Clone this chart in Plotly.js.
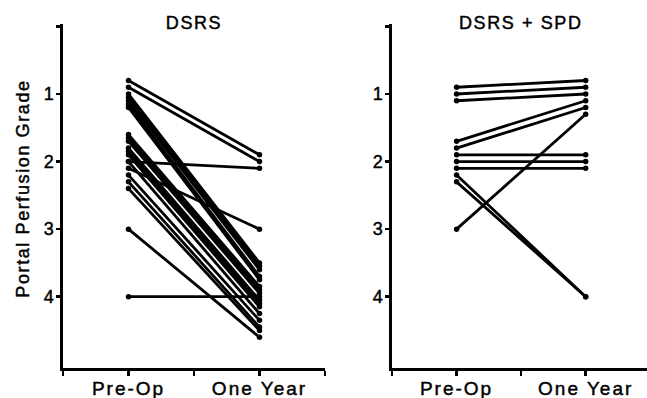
<!DOCTYPE html>
<html>
<head>
<meta charset="utf-8">
<script src="https://cdn.plot.ly/plotly-3.0.1.min.js"></script>
<style>
  html, body { margin: 0; padding: 0; background: #fff; }
  #chart { width: 647px; height: 398px; }
  .main-svg text { letter-spacing: 1.6px; stroke: #000; stroke-width: 0.45px; }
  .main-svg .xtick text, .main-svg .x2tick text { letter-spacing: 2px; }
</style>
</head>
<body>
<div id="chart"></div>
<script>
// ---- Data ----
const categories = ['Pre-Op', 'One Year'];
const panelTitles = ['DSRS', 'DSRS + SPD'];
const yTickLabels = ['1', '2', '3', '4'];
const yAxisTitle = 'Portal Perfusion Grade';

// DSRS panel: one line per patient (Pre-Op grade -> One Year grade)
const dsrsPreOp   = [0.8, 0.9, 2.0, 2.1, 4.0, 3.0,
                     1.0, 1.05, 1.1, 1.15, 1.2,
                     1.6, 1.65, 1.7, 1.8, 1.85, 1.9, 2.0, 2.2, 2.3, 2.4];
const dsrsOneYear = [1.9, 2.0, 2.1, 3.0, 4.0, 4.6,
                     3.5, 3.55, 3.6, 3.7, 3.75,
                     3.85, 3.9, 3.95, 4.05, 4.1, 4.15, 4.25, 4.35, 4.45, 4.5];

// DSRS + SPD panel
const spdPreOp   = [0.9, 1.0, 1.1, 1.7, 1.8, 1.9, 2.0, 2.1, 2.2, 2.3, 3.0];
const spdOneYear = [0.8, 0.9, 1.0, 1.1, 1.2, 1.9, 2.0, 2.1, 4.0, 4.0, 1.3];

// ---- Build traces ----
// categories sit at positions 1 and 3 of a 0..4 axis (blank ticks between)
const catPos = categories.map((c, i) => 1 + 2 * i);

function buildTrace(pre, post, xa, ya) {
  const x = [], y = [];
  pre.forEach((v, i) => {
    x.push(catPos[0], catPos[1], null);
    y.push(v, post[i], null);
  });
  return {
    type: 'scatter', mode: 'lines+markers', x, y, xaxis: xa, yaxis: ya,
    connectgaps: false, hoverinfo: 'skip',
    line: { color: '#000', width: 2.8 },
    marker: { color: '#000', size: 5.5 }
  };
}

const traces = [
  buildTrace(dsrsPreOp, dsrsOneYear, 'x', 'y'),
  buildTrace(spdPreOp, spdOneYear, 'x2', 'y2')
];

const font = { family: 'Liberation Sans, Arial, Helvetica, sans-serif', color: '#000' };

function xAxis(domain, range, anchor) {
  return {
    domain, range, anchor,
    tickmode: 'array',
    tickvals: [0, 1, 2, 3, 4],
    ticktext: ['', categories[0], '', categories[1], ''],
    ticks: 'outside', ticklen: 5, tickwidth: 2.5, tickcolor: '#000',
    ticklabelstandoff: -4,
    showline: true, linewidth: 3, linecolor: '#000',
    showgrid: false, zeroline: false, fixedrange: true,
    tickfont: Object.assign({ size: 19 }, font)
  };
}
function yAxis(anchor) {
  return {
    anchor,
    range: [5.055, -0.036],
    tickmode: 'array',
    tickvals: [0, 1, 2, 3, 4],
    ticktext: [''].concat(yTickLabels),
    ticks: 'outside', ticklen: 4, tickwidth: 2.5, tickcolor: '#000',
    ticklabelstandoff: -3,
    showline: true, linewidth: 3, linecolor: '#000',
    showgrid: false, zeroline: false, fixedrange: true,
    tickfont: Object.assign({ size: 18 }, font)
  };
}

const layout = {
  width: 647, height: 398,
  margin: { l: 63, r: 0, t: 24, b: 30 },
  paper_bgcolor: '#fff', plot_bgcolor: '#fff',
  showlegend: false,
  font: font,
  xaxis: xAxis([0, 0.4486], [0, 4], 'y'),
  yaxis: yAxis('x'),
  xaxis2: xAxis([0.5634, 1], [0, 3.95], 'y2'),
  yaxis2: yAxis('x2'),
  annotations: [
    { text: panelTitles[0], xref: 'x', x: 2, yref: 'paper', y: 1, yanchor: 'middle', yshift: 1,
      showarrow: false, font: Object.assign({ size: 18 }, font) },
    { text: panelTitles[1], xref: 'x2', x: 2, yref: 'paper', y: 1, yanchor: 'middle', yshift: 1,
      showarrow: false, font: Object.assign({ size: 18 }, font) },
    { text: yAxisTitle, xref: 'paper', x: -0.0685, yref: 'paper', y: 0.523, textangle: -90,
      xanchor: 'center', yanchor: 'middle', showarrow: false, font: Object.assign({ size: 18 }, font) }
  ]
};

Plotly.newPlot('chart', traces, layout, { staticPlot: true, displayModeBar: false });
</script>
</body>
</html>
